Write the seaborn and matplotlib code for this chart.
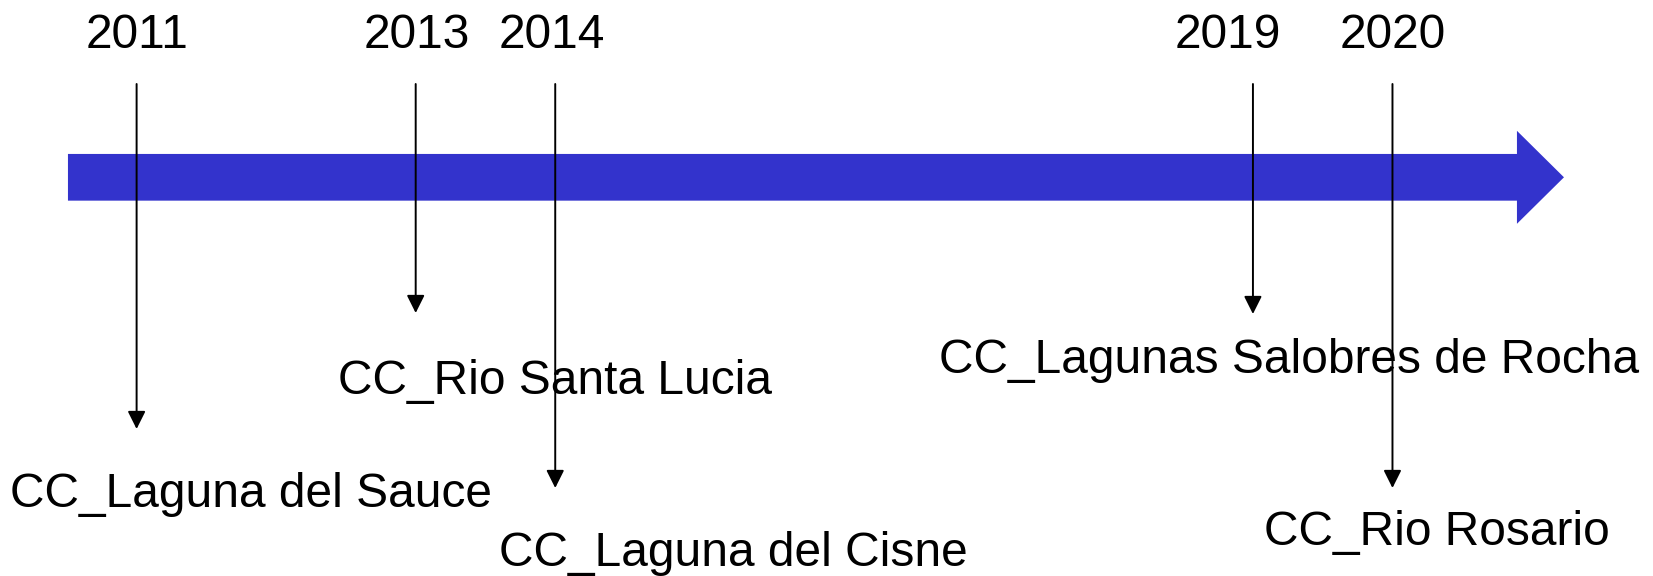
import numpy as np
import pandas as pd
import matplotlib
matplotlib.use("Agg")
import matplotlib.pyplot as plt
from matplotlib.patches import FancyArrow
import seaborn as sns

# timeline data
years = [2011, 2013, 2014, 2019, 2020]
sites = [
    "CC_Laguna del Sauce",
    "CC_Rio Santa Lucia",
    "CC_Laguna del Cisne",
    "CC_Lagunas Salobres de Rocha",
    "CC_Rio Rosario",
]

# layout (pixels, y measured from the top)
tip_y = [429, 313, 488, 314, 488]           # where each pointer ends
label_off = [(-127, -78), (-78, -81), (-56, -78), (-314, -59), (-128, -57)]
year_dx = [0, 1, -3, -25, 0]

df = pd.DataFrame({"year": years, "site": sites, "tip": tip_y})

sns.set_theme(style="white")
plt.rcParams["font.family"] = ["Liberation Sans", "DejaVu Sans"]

W, H, DPI = 1653, 576, 100
fig = plt.figure(figsize=(W / DPI, H / DPI), dpi=DPI)
ax = fig.add_axes([0, 0, 1, 1])
ax.set_xlim(2010.021, 2021.867)
ax.set_ylim(H, 0)
ax.axis("off")
sns.despine(ax=ax, left=True, bottom=True)

# big blue time arrow
x0, x1 = 2010.508, 2021.229
ax.add_patch(FancyArrow(x0, 177.3, x1 - x0, 0, width=46.7, head_width=93,
                        head_length=0.337, length_includes_head=True,
                        color="#3333cc", lw=0, zorder=1))

start_y = 84
for i, row in df.iterrows():
    ax.annotate("", xy=(row.year, row.tip), xytext=(row.year, start_y),
                arrowprops=dict(arrowstyle="-|>", color="black", lw=1.4,
                                mutation_scale=27, shrinkA=0, shrinkB=0),
                zorder=3)
    ax.annotate(str(row.year), xy=(row.year, 48), xytext=(year_dx[i], 0),
                textcoords="offset pixels", ha="center", va="baseline",
                fontsize=34.5, color="black")
    dx, dy = label_off[i]
    ax.annotate(row.site, xy=(row.year, row.tip), xytext=(dx, dy),
                textcoords="offset pixels", ha="left", va="baseline",
                fontsize=34.5, color="black", zorder=2)

fig.savefig("out.png", dpi=DPI)
